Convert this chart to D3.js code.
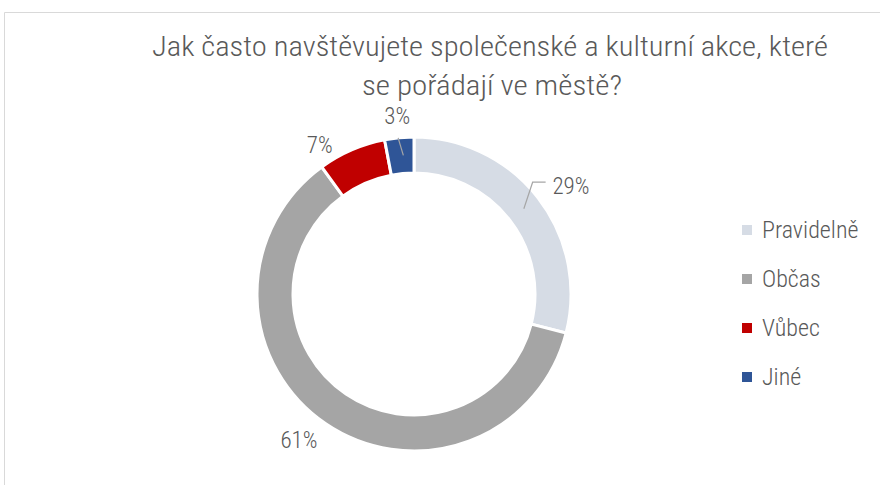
<!DOCTYPE html>
<html>
<head>
<meta charset="utf-8">
<script src="https://cdn.jsdelivr.net/npm/d3@7"></script>
<style>
  body { margin: 0; background: #fff; }
  svg text { font-family: "Roboto Condensed", "Liberation Sans Narrow", "DejaVu Sans Condensed", sans-serif; font-weight: 300; fill: #595959; }
</style>
</head>
<body>
<svg id="chart"></svg>
<script>
const categories = ["Pravidelně", "Občas", "Vůbec", "Jiné"]
const values = [29, 61, 7, 3]
const colors = ["#D6DCE5", "#A5A5A5", "#C00000", "#2F5597"]
const labels = ["29%", "61%", "7%", "3%"]

const width = 880, height = 485
const cx = 414, cy = 294,
      outerR = 157, innerR = 121

const svg = d3.select("#chart")
              .attr("width", width)
              .attr("height", height)

// frame
svg.append("path")
   .attr("d", `M4.5,${height} V12.5 H${width}`)
   .attr("fill", "none")
   .attr("stroke", "#d9d9d9")
   .attr("stroke-width", 1)

// title
const title = svg.append("text")
   .attr("text-anchor", "middle")
   .style("font-size", "28px")
title.append("tspan").attr("x", 490).attr("y", 56)
     .attr("textLength", 676).attr("lengthAdjust", "spacingAndGlyphs")
     .text("Jak často navštěvujete společenské a kulturní akce, které")
title.append("tspan").attr("x", 492).attr("y", 95)
     .attr("textLength", 260).attr("lengthAdjust", "spacingAndGlyphs")
     .text("se pořádají ve městě?")

const pie = d3.pie().sort(null).value(d => d)
const arcs = pie(values)

const arc = d3.arc().innerRadius(innerR).outerRadius(outerR)

const g = svg.append("g").attr("transform", `translate(${cx},${cy})`)

g.selectAll("path.slice")
 .data(arcs)
 .enter().append("path")
 .attr("class", "slice")
 .attr("d", arc)
 .attr("fill", (d, i) => colors[i])
 .attr("stroke", "#fff")
 .attr("stroke-width", 3)

// labels: radius + angle nudge (degrees) per slice
const labelPos = [
  {r: 188, da: 3, anchor: "start", dx: -16},
  {r: 186, da: 4, anchor: "middle", dx: 0},
  {r: 176, da: -9, anchor: "middle", dx: 0},
  {r: 178, da: 0, anchor: "middle", dx: 0}
]
const polar = (r, a) => [r * Math.sin(a), -r * Math.cos(a)]
const mid = d => (d.startAngle + d.endAngle) / 2

g.selectAll("text.lbl")
 .data(arcs)
 .enter().append("text")
 .attr("class", "lbl")
 .style("font-size", "23px")
 .attr("text-anchor", (d, i) => labelPos[i].anchor)
 .attr("dominant-baseline", "central")
 .attr("x", (d, i) => polar(labelPos[i].r, mid(d) + labelPos[i].da * Math.PI / 180)[0] + labelPos[i].dx)
 .attr("y", (d, i) => polar(labelPos[i].r, mid(d) + labelPos[i].da * Math.PI / 180)[1])
 .text((d, i) => labels[i])

// leader lines for Pravidelně and Jiné
const ringMid = (innerR + outerR) / 2
const p0 = polar(ringMid, mid(arcs[0]))
const p1 = polar(163, mid(arcs[0]) - 5.5 * Math.PI / 180)
g.append("polyline")
 .attr("points", [p0, p1, [p1[0] + 13, p1[1]]].map(p => p.join(",")).join(" "))
 .attr("fill", "none").attr("stroke", "#a6a6a6").attr("stroke-width", 1.2)

const q0 = polar(ringMid, mid(arcs[3]) + 1 * Math.PI / 180)
const q1 = polar(157, mid(arcs[3]) - 0.4 * Math.PI / 180)
g.append("line")
 .attr("x1", q0[0]).attr("y1", q0[1])
 .attr("x2", q1[0]).attr("y2", q1[1])
 .attr("stroke", "#a6a6a6").attr("stroke-width", 1.2)

// legend
const legend = svg.append("g").attr("transform", "translate(742,230)")
const row = legend.selectAll("g")
 .data(categories)
 .enter().append("g")
 .attr("transform", (d, i) => `translate(0,${i * 49})`)
row.append("rect")
 .attr("x", 0).attr("y", -5).attr("width", 10).attr("height", 10)
 .attr("fill", (d, i) => colors[i])
row.append("text")
 .attr("x", 20).attr("y", 0)
 .attr("dominant-baseline", "central")
 .style("font-size", "24px")
 .text(d => d)
</script>
</body>
</html>
